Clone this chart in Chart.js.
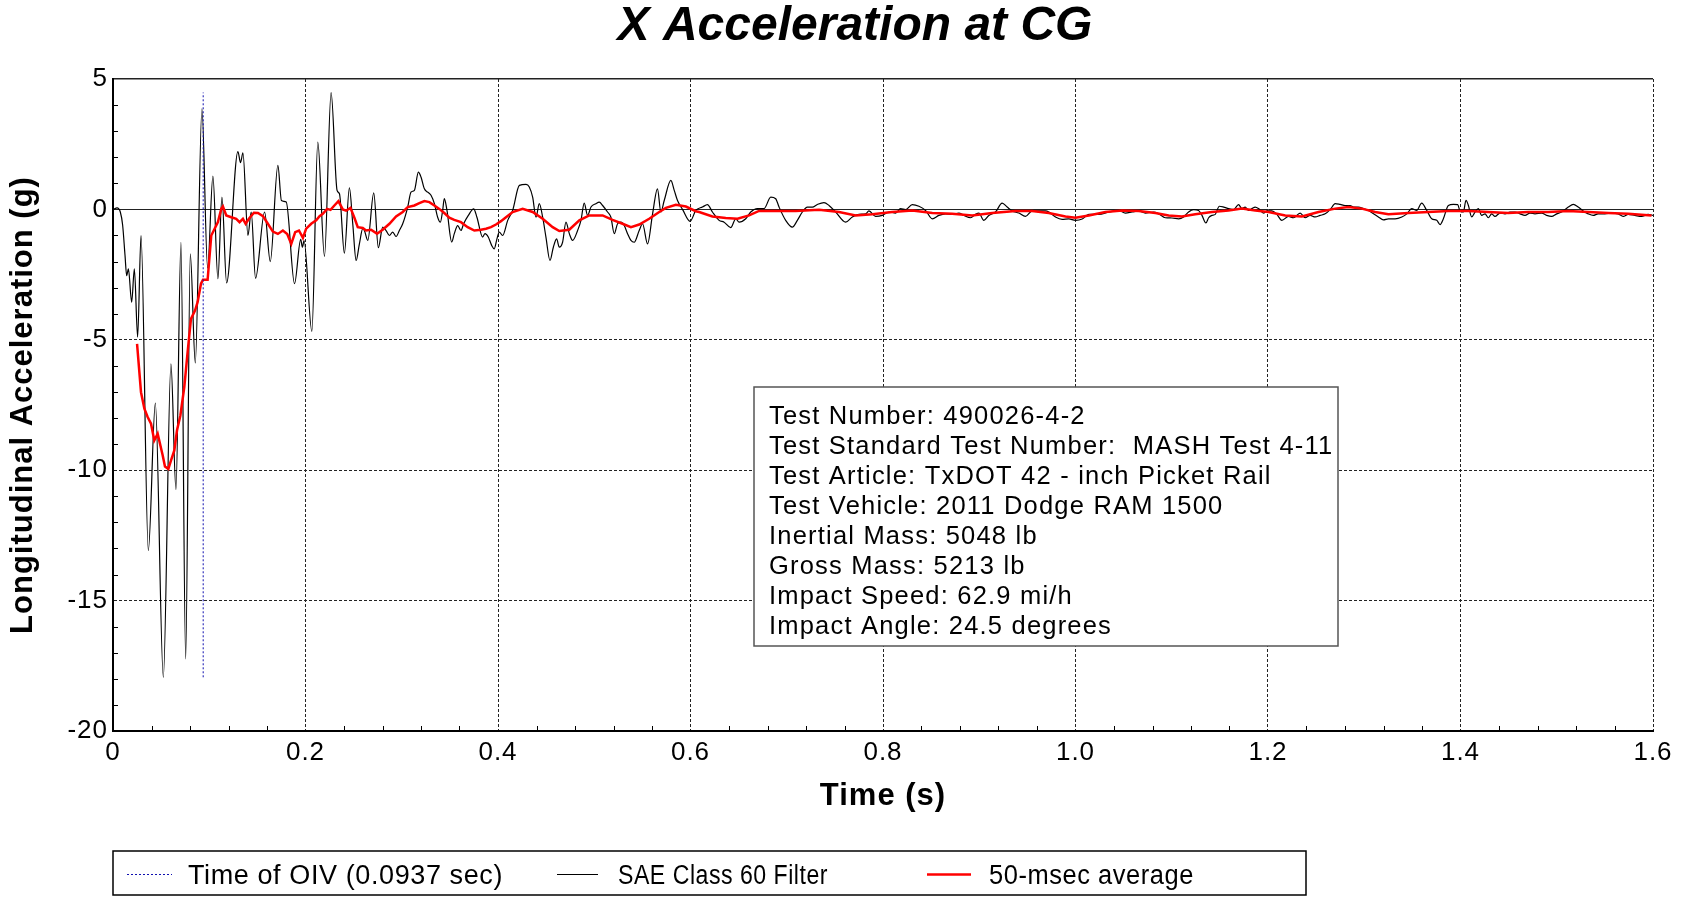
<!DOCTYPE html>
<html>
<head>
<meta charset="utf-8">
<script src="https://cdn.jsdelivr.net/npm/chart.js@4.4.1/dist/chart.umd.min.js"></script>
<style>
  html, body { margin: 0; padding: 0; background: #fff; }
  #wrap { width: 1686px; height: 898px; }
</style>
</head>
<body>
<div id="wrap"><canvas id="chart" width="1686" height="898"></canvas></div>
<script>
const FONT = "'Liberation Sans', Arial, sans-serif";

// ---- data (time in s, acceleration in g) ----
const oivTime = [0.0937, 0.0937];
const oivAccel = [-17.94, 4.48];

const rawTime = [
  0.0004, 0.0042, 0.0076, 0.0100, 0.0125, 0.0142, 0.0160, 0.0194, 0.0222, 0.0256, 0.0291, 0.0367,
  0.0440, 0.0523, 0.0602, 0.0654, 0.0706, 0.0755, 0.0803, 0.0855, 0.0924, 0.0983, 0.1038, 0.1090,
  0.1132, 0.1180, 0.1298, 0.1325, 0.1350, 0.1402, 0.1436, 0.1481, 0.1575, 0.1634, 0.1713, 0.1750,
  0.1800, 0.1886, 0.1950, 0.1968, 0.1985, 0.2066, 0.2128, 0.2197, 0.2266, 0.2328, 0.2353, 0.2404,
  0.2456, 0.2491, 0.2526, 0.2560, 0.2595, 0.2612, 0.2647, 0.2709, 0.2757, 0.2802, 0.2837, 0.2872,
  0.2906, 0.2941, 0.2975, 0.3010, 0.3062, 0.3096, 0.3131, 0.3173, 0.3200, 0.3235, 0.3270, 0.3304,
  0.3339, 0.3373, 0.3401, 0.3425, 0.3442, 0.3470, 0.3519, 0.3546, 0.3581, 0.3615, 0.3643, 0.3692,
  0.3747, 0.3781, 0.3840, 0.3865, 0.3899, 0.3934, 0.3961, 0.3989, 0.4013, 0.4048, 0.4101, 0.4152,
  0.4222, 0.4291, 0.4325, 0.4360, 0.4395, 0.4429, 0.4464, 0.4498, 0.4540, 0.4575, 0.4609, 0.4637,
  0.4671, 0.4706, 0.4741, 0.4775, 0.4827, 0.4862, 0.4896, 0.4931, 0.4966, 0.5017, 0.5052, 0.5087,
  0.5138, 0.5173, 0.5208, 0.5242, 0.5277, 0.5312, 0.5346, 0.5381, 0.5415, 0.5467, 0.5502, 0.5554,
  0.5606, 0.5657, 0.5692, 0.5727, 0.5796, 0.5831, 0.5865, 0.5917, 0.5996, 0.6055, 0.6124, 0.6176,
  0.6228, 0.6297, 0.6349, 0.6418, 0.6470, 0.6505, 0.6574, 0.6626, 0.6695, 0.6764, 0.6834, 0.6885,
  0.6920, 0.6989, 0.7058, 0.7110, 0.7162, 0.7214, 0.7266, 0.7318, 0.7387, 0.7439, 0.7508, 0.7612,
  0.7681, 0.7750, 0.7820, 0.7854, 0.7923, 0.7993, 0.8062, 0.8131, 0.8183, 0.8235, 0.8304, 0.8373,
  0.8442, 0.8512, 0.8581, 0.8650, 0.8719, 0.8788, 0.8840, 0.8910, 0.8961, 0.8996, 0.9048, 0.9100,
  0.9169, 0.9238, 0.9290, 0.9342, 0.9411, 0.9480, 0.9550, 0.9619, 0.9688, 0.9723, 0.9792, 0.9861,
  0.9930, 1.0000, 1.0069, 1.0138, 1.0242, 1.0345, 1.0449, 1.0518, 1.0588, 1.0657, 1.0726, 1.0812,
  1.0864, 1.0933, 1.1002, 1.1071, 1.1123, 1.1175, 1.1227, 1.1279, 1.1314, 1.1355, 1.1383, 1.1417,
  1.1452, 1.1494, 1.1539, 1.1590, 1.1642, 1.1694, 1.1729, 1.1763, 1.1798, 1.1833, 1.1867, 1.1902,
  1.1954, 1.1988, 1.2040, 1.2092, 1.2144, 1.2213, 1.2265, 1.2334, 1.2386, 1.2438, 1.2490, 1.2542,
  1.2594, 1.2646, 1.2698, 1.2750, 1.2801, 1.2853, 1.2888, 1.2940, 1.2992, 1.3044, 1.3096, 1.3147,
  1.3199, 1.3251, 1.3320, 1.3390, 1.3442, 1.3493, 1.3545, 1.3597, 1.3649, 1.3701, 1.3753, 1.3788,
  1.3822, 1.3874, 1.3926, 1.3971, 1.3995, 1.4030, 1.4057, 1.4082, 1.4116, 1.4151, 1.4185, 1.4220,
  1.4255, 1.4289, 1.4324, 1.4358, 1.4410, 1.4462, 1.4514, 1.4566, 1.4618, 1.4670, 1.4722, 1.4774,
  1.4843, 1.4895, 1.4947, 1.4999, 1.5050, 1.5120, 1.5172, 1.5223, 1.5275, 1.5327, 1.5379, 1.5431,
  1.5500, 1.5569, 1.5639, 1.5690, 1.5742, 1.5812, 1.5881, 1.5950, 1.6000
];
const rawAccel = [
  0, 0.06, -0.1, -0.6, -1.77, -2.54, -2.28, -3.56, -2.28, -4.9, -1.0, -13.08,
  -7.43, -17.94, -5.92, -10.75, -1.26, -17.24, -1.7, -5.89, 3.86, -2.25, 1.28, -2.66,
  0.47, -2.82, 2.22, 1.79, 2.17, -1.0, -0.1, -2.64, -0.1, -2.0, 1.69, 0.34,
  0.28, -2.85, -1.15, -1.45, -1.2, -4.68, 2.58, -1.8, 4.48, 0.73, 0.6, -1.68,
  0.83, -0.55, -1.96, -1.32, -0.74, -0.81, -1.19, 0.63, -1.47, -0.68, -0.81, -1.0,
  -0.87, -1.04, -0.81, -0.55, 0.09, 0.66, 0.73, 1.43, 1.24, 0.79, 0.66, 0.54,
  0.22, -0.3, -0.49, -0.04, 0.41, -0.04, -1.25, -0.93, -0.62, -0.81, -0.55, -0.23,
  0.02, -0.3, -1.06, -0.93, -1.06, -1.38, -1.51, -1.13, -0.87, -1.0, -0.42, -0.04,
  0.92, 0.96, 0.86, 0.47, -0.3, 0.22, -0.3, -1.06, -1.96, -1.45, -1.13, -1.45,
  -1.26, -0.49, -0.93, -1.19, -0.81, -0.42, 0.24, -0.23, 0.09, 0.22, 0.28, 0.15,
  -0.1, -0.3, -0.93, -0.55, -0.49, -0.62, -0.93, -1.19, -1.26, -0.81, -0.55, -1.32,
  -0.17, 0.79, -0.1, 0.34, 1.11, 0.73, 0.34, 0.0, -0.46, -0.04, 0.09, 0.18,
  -0.1, -0.42, -0.49, -0.7, -0.36, -0.49, -0.36, -0.1, 0.03, 0.03, 0.47, 0.41,
  0.09, -0.42, -0.68, -0.42, -0.1, 0.09, 0.09, 0.19, 0.26, 0.15, -0.1, -0.49,
  -0.29, -0.19, -0.17, -0.06, -0.27, -0.23, -0.1, -0.14, 0.03, -0.01, 0.18, 0.12,
  -0.04, -0.36, -0.23, -0.17, -0.19, -0.14, -0.23, -0.32, -0.19, -0.14, -0.42, -0.23,
  -0.1, 0.24, 0.09, -0.06, -0.14, -0.27, -0.06, -0.06, -0.06, -0.1, -0.29, -0.38,
  -0.36, -0.42, -0.37, -0.19, -0.19, -0.1, -0.04, -0.14, -0.1, -0.06, -0.14, -0.1,
  -0.17, -0.32, -0.33, -0.36, -0.29, -0.1, -0.01, -0.04, -0.23, -0.52, -0.32, -0.23,
  -0.19, 0.12, 0.09, 0.03, -0.01, 0.18, 0.03, 0.09, -0.04, 0.03, 0.09, 0.03,
  -0.14, -0.06, -0.06, -0.19, -0.42, -0.27, -0.32, -0.14, -0.32, -0.23, -0.29, -0.23,
  -0.17, -0.01, 0.22, 0.19, 0.15, 0.15, 0.09, 0.09, 0.03, -0.04, -0.17, -0.29,
  -0.4, -0.36, -0.36, -0.29, -0.17, 0.03, -0.04, 0.24, -0.04, -0.36, -0.42, -0.58,
  -0.36, 0.15, 0.19, 0.18, -0.06, -0.1, 0.35, 0.15, -0.29, -0.1, 0.03, -0.23,
  -0.17, -0.32, -0.17, -0.27, -0.14, -0.17, -0.1, -0.1, -0.17, -0.23, -0.14, -0.17,
  -0.14, -0.23, -0.27, -0.17, -0.1, 0.09, 0.19, 0.09, -0.06, -0.17, -0.23, -0.17,
  -0.17, -0.14, -0.17, -0.27, -0.19, -0.23, -0.27, -0.19, -0.23
];

const avgTime = [
  0.0250, 0.0291, 0.0326, 0.0360, 0.0395, 0.0429, 0.0464, 0.0516, 0.0540, 0.0575, 0.0602, 0.0637,
  0.0665, 0.0700, 0.0741, 0.0775, 0.0810, 0.0852, 0.0879, 0.0914, 0.0935, 0.0983, 0.1021, 0.1056,
  0.1090, 0.1125, 0.1142, 0.1177, 0.1229, 0.1280, 0.1315, 0.1350, 0.1378, 0.1412, 0.1464, 0.1506,
  0.1558, 0.1609, 0.1661, 0.1713, 0.1765, 0.1810, 0.1852, 0.1893, 0.1932, 0.1973, 0.2007, 0.2059,
  0.2111, 0.2146, 0.2180, 0.2225, 0.2260, 0.2300, 0.2342, 0.2387, 0.2422, 0.2467, 0.2508, 0.2543,
  0.2595, 0.2629, 0.2681, 0.2743, 0.2802, 0.2872, 0.2941, 0.3010, 0.3062, 0.3131, 0.3183, 0.3235,
  0.3287, 0.3339, 0.3390, 0.3442, 0.3494, 0.3546, 0.3615, 0.3685, 0.3754, 0.3823, 0.3875, 0.3927,
  0.3979, 0.4031, 0.4083, 0.4152, 0.4256, 0.4360, 0.4464, 0.4568, 0.4637, 0.4740, 0.4845, 0.4948,
  0.5087, 0.5190, 0.5294, 0.5381, 0.5467, 0.5571, 0.5675, 0.5744, 0.5848, 0.5952, 0.6055, 0.6090,
  0.6228, 0.6366, 0.6488, 0.6609, 0.6712, 0.6920, 0.7093, 0.7335, 0.7543, 0.7716, 0.7889, 0.8096,
  0.8304, 0.8512, 0.8719, 0.8927, 0.9134, 0.9377, 0.9549, 0.9723, 0.9896, 1.0000, 1.0138, 1.0311,
  1.0484, 1.0657, 1.0830, 1.0968, 1.1106, 1.1244, 1.1417, 1.1590, 1.1729, 1.1867, 1.2006, 1.2179,
  1.2352, 1.2525, 1.2698, 1.2836, 1.2974, 1.3113, 1.3251, 1.3459, 1.3666, 1.3874, 1.4082, 1.4289,
  1.4497, 1.4704, 1.4912, 1.5120, 1.5327, 1.5535, 1.5742, 1.5985
];
const avgAccel = [
  -5.16, -7.01, -7.64, -7.96, -8.22, -8.86, -8.6, -9.43, -9.86, -9.95, -9.63, -9.24,
  -8.47, -7.9, -6.8, -5.48, -4.2, -3.88, -3.56, -2.85, -2.7, -2.7, -1.0, -0.74,
  -0.49, 0.02, 0.11, -0.23, -0.3, -0.36, -0.49, -0.36, -0.55, -0.36, -0.13, -0.14,
  -0.26, -0.55, -0.85, -0.94, -0.81, -0.94, -1.32, -0.87, -0.81, -1.09, -0.74, -0.55,
  -0.42, -0.26, -0.17, 0.02, -0.02, 0.15, 0.32, 0.0, -0.05, 0.06, -0.32, -0.68,
  -0.71, -0.81, -0.78, -0.93, -0.78, -0.55, -0.27, -0.1, 0.09, 0.15, 0.24, 0.32,
  0.28, 0.15, 0.02, -0.14, -0.32, -0.4, -0.49, -0.68, -0.81, -0.78, -0.74, -0.68,
  -0.58, -0.45, -0.3, -0.1, 0.02, -0.1, -0.36, -0.68, -0.83, -0.78, -0.42, -0.23,
  -0.23, -0.4, -0.55, -0.68, -0.58, -0.36, -0.1, 0.06, 0.18, 0.11, -0.07, -0.1,
  -0.27, -0.33, -0.36, -0.23, -0.06, -0.06, -0.06, -0.01, -0.1, -0.23, -0.19, -0.1,
  -0.04, -0.14, -0.17, -0.23, -0.14, -0.06, -0.06, -0.14, -0.27, -0.32, -0.23, -0.1,
  -0.04, -0.06, -0.14, -0.23, -0.27, -0.19, -0.1, -0.04, 0.03, -0.04, -0.1, -0.23,
  -0.27, -0.1, 0.03, 0.09, 0.03, -0.1, -0.19, -0.14, -0.1, -0.06, -0.06, -0.1,
  -0.14, -0.1, -0.1, -0.06, -0.1, -0.14, -0.17, -0.23
];

const xTickValues = [0, 0.2, 0.4, 0.6, 0.8, 1.0, 1.2, 1.4, 1.6];
const xTickLabels = ['0', '0.2', '0.4', '0.6', '0.8', '1.0', '1.2', '1.4', '1.6'];
const yTickValues = [-20, -15, -10, -5, 0, 5];
const yTickLabels = ['-20', '-15', '-10', '-5', '0', '5'];
const xMinorTicks = [0.04, 0.08, 0.12, 0.16, 0.24, 0.28, 0.32, 0.36, 0.44, 0.48, 0.52, 0.56,
  0.64, 0.68, 0.72, 0.76, 0.84, 0.88, 0.92, 0.96, 1.04, 1.08, 1.12, 1.16, 1.24, 1.28, 1.32, 1.36,
  1.44, 1.48, 1.52, 1.56];
const yMinorTicks = [-19, -18, -17, -16, -14, -13, -12, -11, -9, -8, -7, -6, -4, -3, -2, -1, 1, 2, 3, 4];

const seriesLabels = ['Time of OIV (0.0937 sec)', 'SAE Class 60 Filter', '50-msec average'];
const infoLines = [
  'Test Number: 490026-4-2',
  'Test Standard Test Number:  MASH Test 4-11',
  'Test Article: TxDOT 42 - inch Picket Rail',
  'Test Vehicle: 2011 Dodge RAM 1500',
  'Inertial Mass: 5048 lb',
  'Gross Mass: 5213 lb',
  'Impact Speed: 62.9 mi/h',
  'Impact Angle: 24.5 degrees',
];

const pts = (xs, ys) => xs.map((x, i) => ({ x, y: ys[i] }));

// ---- extra drawing: background, title, minor ticks, info box, legend ----
const decorations = {
  id: 'decorations',
  beforeDraw(chart) {
    const { ctx } = chart;
    ctx.save();
    ctx.fillStyle = '#fff';
    ctx.fillRect(0, 0, chart.width, chart.height);
    ctx.restore();
    ctx.letterSpacing = '1px';
  },
  beforeDatasetsDraw(chart) {
    const { ctx, chartArea: a, scales: { x, y } } = chart;
    ctx.save();
    ctx.strokeStyle = '#000';
    ctx.lineWidth = 1;
    ctx.beginPath();
    yMinorTicks.forEach(v => {
      const py = Math.round(y.getPixelForValue(v)) + 0.5;
      ctx.moveTo(a.left, py); ctx.lineTo(a.left + 5, py);
    });
    xMinorTicks.forEach(v => {
      const px = Math.round(x.getPixelForValue(v)) + 0.5;
      ctx.moveTo(px, a.bottom); ctx.lineTo(px, a.bottom - 5);
    });
    ctx.stroke();
    ctx.restore();
  },
  afterDatasetsDraw(chart) {
    const { ctx } = chart;
    // info box
    ctx.save();
    ctx.fillStyle = '#fff';
    ctx.strokeStyle = '#555';
    ctx.lineWidth = 1.5;
    ctx.fillRect(754, 387, 584, 259);
    ctx.strokeRect(754, 387, 584, 259);
    ctx.fillStyle = '#000';
    ctx.font = `25.5px ${FONT}`;
    ctx.letterSpacing = '1.2px';
    ctx.textBaseline = 'middle';
    infoLines.forEach((s, i) => ctx.fillText(s, 769, 417 + i * 29.95));
    ctx.restore();
  },
  afterDraw(chart) {
    const { ctx } = chart;
    ctx.save();
    // title
    ctx.fillStyle = '#000';
    ctx.font = `italic bold 48px ${FONT}`;
    ctx.letterSpacing = '0px';
    ctx.textAlign = 'center';
    ctx.textBaseline = 'middle';
    ctx.fillText('X Acceleration at CG', 855, 27);

    // legend
    ctx.strokeStyle = '#000';
    ctx.lineWidth = 1.5;
    ctx.strokeRect(113, 851, 1193, 44);
    const sampleX = [[127, 172], [557, 598], [927, 971]];
    const textX = [188, 618, 989];
    const textW = [316, 210, 205];
    ctx.font = `27px ${FONT}`;
    ctx.letterSpacing = '0.6px';
    ctx.textAlign = 'left';
    chart.data.datasets.forEach((ds, i) => {
      ctx.save();
      ctx.strokeStyle = ds.borderColor;
      ctx.lineWidth = ds.borderWidth;
      ctx.setLineDash(ds.borderDash || []);
      ctx.beginPath();
      ctx.moveTo(sampleX[i][0], 874.5);
      ctx.lineTo(sampleX[i][1], 874.5);
      ctx.stroke();
      ctx.restore();
      ctx.fillText(ds.label, textX[i], 877, textW[i]);
    });
    ctx.restore();
  }
};

new Chart(document.getElementById('chart'), {
  type: 'line',
  data: {
    datasets: [
      { label: seriesLabels[0], data: pts(oivTime, oivAccel), borderColor: '#1010b0', borderWidth: 1,
        borderDash: [2, 2], pointRadius: 0, order: 0 },
      { label: seriesLabels[1], data: pts(rawTime, rawAccel), borderColor: '#000', borderWidth: 1.2,
        pointRadius: 0, cubicInterpolationMode: 'monotone', order: 2 },
      { label: seriesLabels[2], data: pts(avgTime, avgAccel), borderColor: '#ff0000', borderWidth: 2.5,
        pointRadius: 0, order: 1 },
    ]
  },
  options: {
    responsive: false,
    devicePixelRatio: 1,
    animation: false,
    layout: { padding: { top: 79, right: 33, bottom: 0, left: 0 } },
    plugins: { legend: { display: false }, title: { display: false }, tooltip: { enabled: false } },
    scales: {
      x: {
        type: 'linear', min: 0, max: 1.6,
        afterBuildTicks: s => { s.ticks = xTickValues.map(value => ({ value })); },
        afterFit: s => { s.height = 167; },
        ticks: { color: '#000', font: { family: FONT, size: 26 }, padding: 6, maxRotation: 0,
          callback: (v, i) => xTickLabels[i] },
        grid: { color: '#222', lineWidth: 1, drawTicks: false },
        border: { display: true, color: '#000', width: 2, dash: [3, 2] },
        title: { display: true, text: 'Time (s)', color: '#000',
          font: { family: FONT, size: 31, weight: 'bold' }, padding: { top: 0, bottom: 83 } },
      },
      y: {
        type: 'linear', min: -20, max: 5,
        afterBuildTicks: s => { s.ticks = yTickValues.map(value => ({ value })); },
        afterFit: s => { s.width = 113; },
        ticks: { color: '#000', font: { family: FONT, size: 26 }, padding: 5,
          callback: (v, i) => yTickLabels[i] },
        grid: { color: '#222', drawTicks: false,
          lineWidth: c => (c.tick && c.tick.value === 5) ? 1.5 : 1 },
        border: { display: true, color: '#000', width: 2,
          dash: c => (c.tick && (c.tick.value === 0 || c.tick.value === 5)) ? [] : [3, 2] },
        title: { display: true, text: 'Longitudinal Acceleration (g)', color: '#000',
          font: { family: FONT, size: 31, weight: 'bold' }, padding: { top: 5, bottom: 0 } },
      }
    }
  },
  plugins: [decorations]
});
</script>
</body>
</html>
